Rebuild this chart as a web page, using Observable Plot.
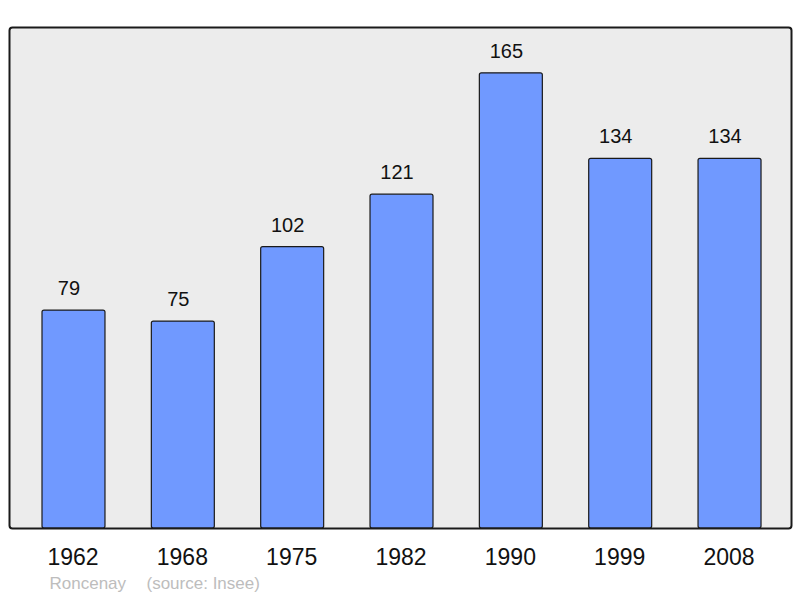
<!DOCTYPE html>
<html>
<head>
<meta charset="utf-8">
<script src="https://cdn.jsdelivr.net/npm/d3@7"></script>
<script src="https://cdn.jsdelivr.net/npm/@observablehq/plot@0.6"></script>
<style>
  html, body { margin: 0; padding: 0; background: #fff; }
  #chart svg { display: block; }
</style>
</head>
<body>
<div id="chart"></div>
<script>
const years = ["1962", "1968", "1975", "1982", "1990", "1999", "2008"];
const population = [79, 75, 102, 121, 165, 134, 134];
const captionName = "Roncenay";
const captionSource = "(source: Insee)";

const data = years.map((y, i) => ({year: y, value: population[i]}));

const chart = Plot.plot({
  width: 800,
  height: 598,
  marginLeft: 9,
  marginRight: 9,
  marginTop: 27,
  marginBottom: 70,
  style: {fontFamily: "'Liberation Sans', Arial, sans-serif", background: "#ffffff"},
  x: {domain: years, paddingInner: 0.424, paddingOuter: 0.288, align: 0.524, round: false, label: null},
  y: {domain: [0, 181.6], axis: null},
  marks: [
    Plot.frame({fill: "#ececec", stroke: null, rx: 3}),
    Plot.barY(data, {x: "year", y: "value", fill: "#7099ff", stroke: "#1a1a1a", strokeWidth: 1.2, rx: 2}),
    Plot.text(data, {x: "year", y: "value", text: d => String(d.value), dx: -5, dy: -22, fontSize: 20, fill: "#111"}),
    Plot.frame({stroke: "#1a1a1a", strokeWidth: 2, rx: 3}),
    Plot.axisX({tickSize: 0, tickPadding: 20, fontSize: 23, dx: -1, fill: "#111"}),
    Plot.text([captionName], {frameAnchor: "bottom-left", textAnchor: "start", dx: 40, dy: 60, fontSize: 17, fill: "#bdbdbd"}),
    Plot.text([captionSource], {frameAnchor: "bottom-left", textAnchor: "start", dx: 137, dy: 60, fontSize: 17, fill: "#bdbdbd"})
  ]
});

document.getElementById("chart").appendChild(chart);
</script>
</body>
</html>
